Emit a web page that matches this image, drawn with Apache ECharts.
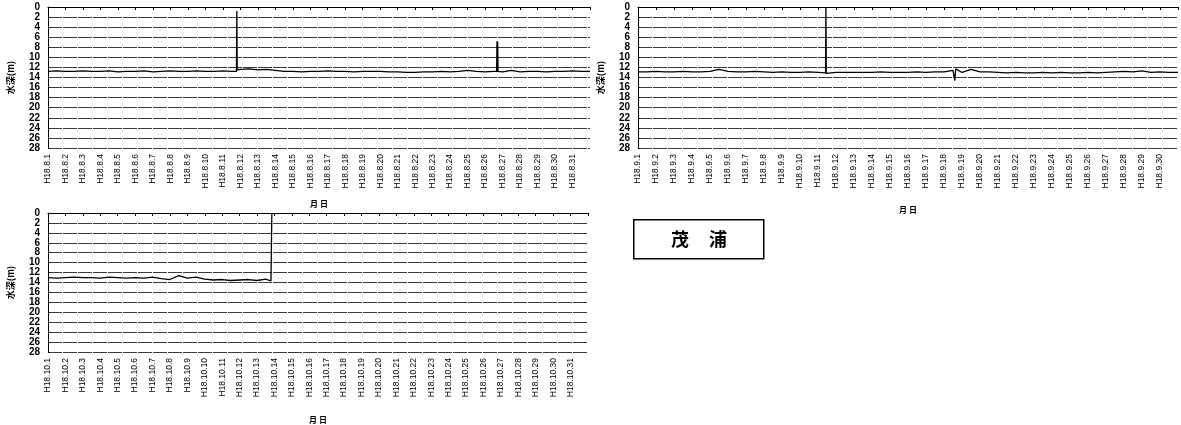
<!DOCTYPE html>
<html>
<head>
<meta charset="utf-8">
<script src="https://cdn.jsdelivr.net/npm/echarts@6/dist/echarts.min.js"></script>
<style>
  html, body { margin: 0; padding: 0; background: #fff; }
  #chart { width: 1181px; height: 425px; }
</style>
</head>
<body>
<div id="chart"></div>
<script>
// 水深 (m), 12時間ごとの読み取り値 (day 0 = 各月1日)
const augDepth = [
  12.8, 12.7, 12.8, 12.8, 12.7, 12.8, 12.8, 12.7, 12.9, 12.8, 12.8, 12.7,
  12.9, 12.8, 12.7, 12.8, 12.8, 12.7, 12.8, 12.8, 12.7, 12.8,
  12.4, 12.3, 12.5, 12.4, 12.6, 12.8, 12.8, 12.9, 12.8, 12.8, 12.7, 12.8,
  12.8, 12.9, 12.8, 12.8, 12.8, 12.9, 12.9, 13.0, 13.0, 12.9, 12.9, 12.8,
  12.9, 12.8, 12.6, 12.8, 12.9, 12.8, 12.9, 12.6, 12.9, 12.8, 12.8, 12.9,
  12.8, 12.8, 12.7, 12.8, 12.8
]
const sepDepth = [
  12.9, 12.9, 12.8, 12.9, 12.9, 12.8, 12.9, 12.9, 12.8, 12.4, 12.8, 12.9,
  12.9, 12.8, 12.9, 13.0, 12.9, 13.0, 13.0, 12.9, 13.0, 13.1,
  13.0, 13.0, 13.0, 13.0, 13.0, 12.9, 13.0, 13.0, 13.0, 12.9, 13.0, 12.9,
  12.9, 12.6, 13.0, 12.4, 12.9, 12.9, 13.0, 13.1, 13.0, 13.1, 13.1, 13.0,
  13.1, 13.0, 13.1, 13.1, 13.0, 13.1, 13.0, 12.9, 12.8, 12.9, 12.7, 13.0,
  12.9, 13.0, 13.0
]
const octDepth = [
  13.0, 13.1, 13.0, 12.9, 13.0, 13.0, 13.1, 12.9, 13.0, 13.1, 13.0, 13.1,
  12.9, 13.2, 13.4, 12.6, 13.1, 12.9, 13.3, 13.5, 13.4, 13.6, 13.5, 13.4,
  13.6, 13.3
]
// 突発的な値 [day, 水深]
const augEvents = [
  [10.78, 12.8], [10.8, 0.8], [10.82, 12.5],
  [25.66, 12.8], [25.68, 6.8], [25.7, 12.9], [25.72, 6.9], [25.74, 12.8]
]
const sepEvents = [
  [10.42, 13.1], [10.44, 0], [10.46, 13.2],
  [17.55, 12.4], [17.6, 14.6], [17.65, 12.3]
]
const octEvents = [
  [12.8, 13.7], [12.85, 0]
]
const months = [8, 9, 10]
const monthDays = [31, 30, 31]
const depthTicks = [0, 28, 2]

function buildSeries (values, events) {
  let pts = values.map((v, i) => [i * 0.5, v])
  events.forEach(e => pts.push(e))
  pts.sort((a, b) => a[0] - b[0])
  return pts
}

const myChart = echarts.init(document.getElementById('chart'))
const font = 'Liberation Sans'
const jpFont = 'Noto Sans CJK JP'

const grids = [
  { left: 48, top: 7, width: 542, height: 141 },
  { left: 638, top: 7, width: 540, height: 141 },
  { left: 48, top: 213, width: 540, height: 141 }
]
const xNameGaps = [52, 58, 64]

let option = {
  animation: false,
  backgroundColor: '#fff',
  grid: grids,
  xAxis: months.map((m, i) => ({
    type: 'value',
    gridIndex: i,
    min: 0,
    max: monthDays[i],
    interval: 1,
    name: '月 日',
    nameLocation: 'middle',
    nameGap: xNameGaps[i],
    nameTextStyle: { fontFamily: jpFont, fontSize: 8, fontWeight: 'bold', color: '#000' },
    axisLine: { lineStyle: { color: '#000', width: 1 } },
    axisTick: { show: true, length: 3, lineStyle: { color: '#000' } },
    splitLine: { show: false },
    axisLabel: {
      rotate: 90,
      fontFamily: font,
      fontSize: 8.5,
      color: '#000',
      margin: 6,
      formatter: v => v < monthDays[i] ? 'H18.' + m + '.' + (v + 1) : ''
    }
  })),
  yAxis: months.map((m, i) => ({
    type: 'value',
    gridIndex: i,
    inverse: true,
    min: depthTicks[0],
    max: depthTicks[1],
    interval: depthTicks[2],
    name: '水深(m)',
    nameLocation: 'middle',
    nameGap: 33,
    nameTextStyle: { fontFamily: jpFont, fontSize: 9, fontWeight: 'bold', color: '#000' },
    axisLine: { show: true, lineStyle: { color: '#000', width: 1 } },
    axisTick: { show: true, length: 2, inside: true, lineStyle: { color: '#000' } },
    axisLabel: {
      fontFamily: font, fontSize: 10, fontWeight: 'bold', color: '#000', margin: 8,
      showMinLabel: true, showMaxLabel: true
    },
    splitLine: { show: true, lineStyle: { color: '#3a3a3a', width: 1, type: [14, 1] } }
  })),
  series: [
    buildSeries(augDepth, augEvents),
    buildSeries(sepDepth, sepEvents),
    buildSeries(octDepth, octEvents)
  ].map((d, i) => ({
    type: 'line',
    xAxisIndex: i,
    yAxisIndex: i,
    data: d,
    showSymbol: false,
    lineStyle: { color: '#000', width: 1.3 }
  })),
  graphic: [
    {
      type: 'rect',
      left: 633,
      top: 219,
      shape: { width: 130, height: 39 },
      style: { fill: '#fff', stroke: '#000', lineWidth: 1.5 }
    },
    {
      type: 'text',
      x: 680,
      y: 239,
      style: { text: '茂', font: 'bold 18px "Noto Sans CJK JP"', fill: '#000', align: 'center', verticalAlign: 'middle' }
    },
    {
      type: 'text',
      x: 718,
      y: 239,
      style: { text: '浦', font: 'bold 18px "Noto Sans CJK JP"', fill: '#000', align: 'center', verticalAlign: 'middle' }
    }
  ]
}
myChart.setOption(option)
</script>
</body>
</html>
